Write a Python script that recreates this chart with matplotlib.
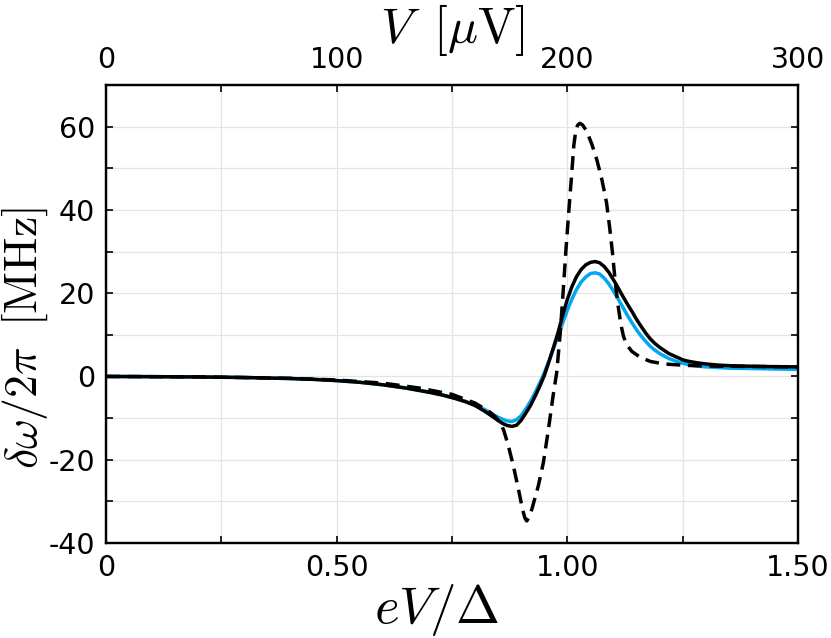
import matplotlib
matplotlib.use("Agg")
import matplotlib.pyplot as plt
from matplotlib.ticker import MultipleLocator, FuncFormatter

plt.rcParams['axes.unicode_minus'] = False
plt.rcParams['mathtext.fontset'] = 'cm'
plt.rcParams['font.family'] = ['DejaVu Sans']

# Solid black curve
x_black = [0, 0.1, 0.2, 0.3, 0.4, 0.45, 0.5, 0.55, 0.6, 0.65, 0.7, 0.73, 0.76, 0.78, 0.8,
           0.82, 0.84, 0.85, 0.86, 0.87, 0.88, 0.89, 0.9, 0.91, 0.92, 0.93, 0.94, 0.95,
           0.96, 0.97, 0.98, 0.99, 1.0, 1.01, 1.02, 1.03, 1.04, 1.05, 1.06, 1.07, 1.08,
           1.09, 1.1, 1.11, 1.12, 1.13, 1.14, 1.15, 1.16, 1.17, 1.18, 1.19, 1.2, 1.22,
           1.24, 1.25, 1.26, 1.28, 1.3, 1.33, 1.36, 1.4, 1.45, 1.5]
y_black = [0, -0.05, -0.12, -0.25, -0.5, -0.7, -1.0, -1.4, -2.0, -2.8, -3.8, -4.5, -5.4, -6.1, -7.0,
           -8.3, -9.8, -10.6, -11.3, -11.8, -12.0, -11.7, -10.5, -8.8, -7.0, -4.8, -2.4, 0.2,
           3.5, 7.0, 10.6, 14.8, 18.5, 21.6, 24.0, 25.7, 26.8, 27.4, 27.6, 27.3, 26.4,
           25.0, 23.2, 21.3, 19.3, 17.4, 15.6, 13.7, 12.0, 10.4, 9.0, 7.9, 7.0, 5.5,
           4.5, 4.0, 3.7, 3.3, 3.0, 2.7, 2.55, 2.45, 2.35, 2.3]

# Blue curve
x_blue = [0, 0.1, 0.2, 0.3, 0.4, 0.45, 0.5, 0.55, 0.6, 0.65, 0.7, 0.73, 0.76, 0.78, 0.8,
          0.82, 0.84, 0.85, 0.86, 0.87, 0.88, 0.89, 0.9, 0.91, 0.92, 0.93, 0.94, 0.95,
          0.96, 0.97, 0.98, 0.99, 1.0, 1.01, 1.02, 1.03, 1.04, 1.05, 1.06, 1.07, 1.08,
          1.09, 1.1, 1.11, 1.12, 1.13, 1.14, 1.15, 1.16, 1.17, 1.18, 1.19, 1.2, 1.22,
          1.24, 1.26, 1.28, 1.3, 1.35, 1.4, 1.45, 1.5]
y_blue = [0, -0.05, -0.12, -0.25, -0.5, -0.7, -1.0, -1.4, -2.0, -2.75, -3.7, -4.4, -5.3, -6.0, -6.8,
          -7.9, -9.2, -9.8, -10.3, -10.7, -10.8, -10.4, -9.4, -7.8, -6.0, -3.9, -1.6, 0.9,
          3.7, 6.7, 9.8, 12.9, 15.9, 18.6, 20.9, 22.7, 23.9, 24.7, 24.9, 24.6, 23.6,
          22.2, 20.5, 18.6, 16.7, 14.7, 12.9, 11.2, 9.7, 8.4, 7.2, 6.3, 5.5, 4.3,
          3.5, 2.9, 2.5, 2.3, 2.0, 1.9, 1.8, 1.7]

# Dashed black curve
x_dash = [0, 0.2, 0.4, 0.5, 0.6, 0.68, 0.75, 0.8, 0.83, 0.845, 0.855, 0.862, 0.872, 0.883,
          0.894, 0.903, 0.908, 0.912, 0.916, 0.923, 0.937, 0.948, 0.959, 0.969, 0.977,
          0.985, 0.991, 0.997, 1.003, 1.009, 1.014, 1.018, 1.022, 1.027, 1.033, 1.042,
          1.053, 1.064, 1.075, 1.085, 1.092, 1.098, 1.104, 1.11, 1.116, 1.122, 1.13,
          1.14, 1.158, 1.18, 1.21, 1.25, 1.3, 1.4, 1.5]
y_dash = [0, -0.1, -0.45, -0.85, -1.6, -2.8, -4.3, -6.4, -8.4, -9.8, -11.2, -12.9, -16.6, -21.5,
          -27.1, -32.0, -34.0, -34.7, -34.0, -31.9, -26.3, -20.7, -12.7, -4.7, 1.0,
          11.0, 20.5, 30.5, 39.5, 48.0, 55.5, 58.8, 60.3, 60.8, 60.4, 58.9,
          55.8, 52.0, 47.2, 41.7, 35.5, 29.5, 22.5, 17.0, 12.5, 9.5, 7.4,
          6.0, 4.6, 3.6, 3.0, 2.7, 2.5, 2.4, 2.3]

x_ticks = [0, 0.5, 1.0, 1.5]
y_ticks = [-40, -20, 0, 20, 40, 60]
top_ticks = [0, 100, 200, 300]

fig = plt.figure(figsize=(8.31, 6.38), dpi=100)
ax = fig.add_axes([0.1276, 0.1489, 0.9603 - 0.1276, 0.8668 - 0.1489])

ax.plot(x_blue, y_blue, color='#00a8f0', lw=2.5, zorder=3, solid_joinstyle='round')
ax.plot(x_black, y_black, color='black', lw=2.5, zorder=4, solid_joinstyle='round')
ax.plot(x_dash, y_dash, color='black', lw=2.5, ls=(0, (4.0, 2.2)), zorder=5,
        dash_joinstyle='round')

ax.set_xlim(0, 1.5)
ax.set_ylim(-40, 70)
ax.set_xticks(x_ticks)
ax.xaxis.set_minor_locator(MultipleLocator(0.25))
ax.set_yticks(y_ticks)
ax.yaxis.set_minor_locator(MultipleLocator(10))
ax.xaxis.set_major_formatter(FuncFormatter(lambda v, p: "0" if abs(v) < 1e-9 else f"{v:.2f}"))
ax.grid(True, which='both', color='#e4e4e4', lw=0.9, zorder=0)
ax.tick_params(which='both', direction='in', length=5, width=1.2, labelsize=20.5,
               right=True, top=False, pad=8)
for s in ax.spines.values():
    s.set_linewidth(1.6)

ax.set_xlabel(r'$eV/\Delta$', fontsize=38, labelpad=0)
ax.xaxis.label.set_x(0.477)
ax.set_ylabel(r'$\delta\omega/2\pi\;\;[\mathrm{MHz}]$', fontsize=33, labelpad=-1)
ax.yaxis.label.set_y(0.447)

ax2 = ax.twiny()
ax2.set_xlim(0, 300)
ax2.set_xticks(top_ticks)
ax2.xaxis.set_minor_locator(MultipleLocator(50))
ax2.tick_params(which='both', direction='in', length=5, width=1.2, labelsize=20.5, pad=8)
ax2.set_xlabel(r'$V\;\;[\mu\mathrm{V}]$', fontsize=36, labelpad=2)
for s in ax2.spines.values():
    s.set_linewidth(1.6)

fig.savefig('out.png', dpi=100)
